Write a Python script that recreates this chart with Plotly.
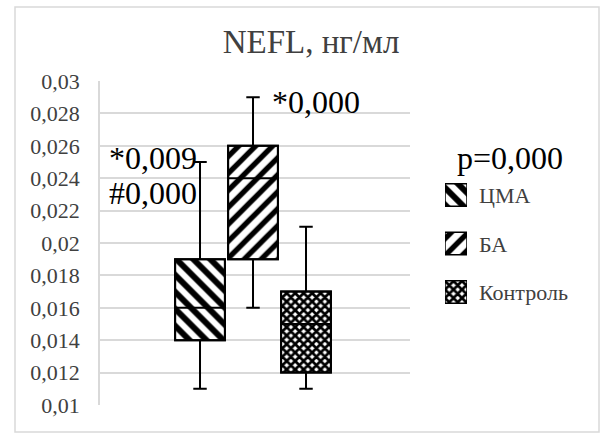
import plotly.graph_objects as go

# ---- data ----
groups = ["ЦМА", "БА", "Контроль"]
q1 = [0.014, 0.019, 0.012]
median = [0.016, 0.024, 0.015]
q3 = [0.019, 0.026, 0.017]
lower = [0.011, 0.016, 0.011]
upper = [0.025, 0.029, 0.021]
ytick_vals = [0.01, 0.012, 0.014, 0.016, 0.018, 0.02, 0.022, 0.024, 0.026, 0.028, 0.03]
ytick_text = ["0,01", "0,012", "0,014", "0,016", "0,018", "0,02", "0,022", "0,024", "0,026", "0,028", "0,03"]
notes = ["*0,009", "#0,000", "*0,000"]
p_text = "p=0,000"
title_text = "NEFL, нг/мл"

patterns = [
    dict(shape="\\", fgcolor="black", bgcolor="white", fgopacity=1, size=12, solidity=0.5),
    dict(shape="/", fgcolor="black", bgcolor="white", fgopacity=1, size=12, solidity=0.45),
    dict(shape="x", fgcolor="black", bgcolor="white", fgopacity=1, size=6, solidity=0.7),
]

SERIF = "Liberation Serif, Times New Roman, Times, serif"
fig = go.Figure()

for i, g in enumerate(groups):
    fig.add_trace(go.Bar(
        x=[g], y=[q3[i] - q1[i]], base=[q1[i]], width=0.94,
        marker=dict(color="white", opacity=1, pattern=patterns[i], line=dict(color="black", width=2)),
        showlegend=False, hoverinfo="skip", xaxis="x", yaxis="y"))
    fig.add_trace(go.Box(
        x=[g], q1=[q1[i]], median=[median[i]], q3=[q3[i]],
        lowerfence=[lower[i]], upperfence=[upper[i]],
        width=0.94, whiskerwidth=0.27, fillcolor="rgba(0,0,0,0)",
        line=dict(color="black", width=2), showlegend=False,
        xaxis="x", yaxis="y"))
    # legend swatch
    fig.add_trace(go.Bar(
        y=[g], x=[1], orientation="h", width=0.46,
        marker=dict(color="white", opacity=1, pattern=patterns[i], line=dict(color="black", width=1.5)),
        showlegend=False, hoverinfo="skip", xaxis="x2", yaxis="y2"))

fig.update_layout(
    width=600, height=434,
    margin=dict(l=100, r=0, t=81, b=29, autoexpand=False),
    paper_bgcolor="white", plot_bgcolor="white",
    barmode="overlay", boxmode="overlay",
    font=dict(family=SERIF, color="#404040"),
    title=dict(text=title_text, x=(311 - 100) / 500, xref="paper", xanchor="center",
               y=1 - 41 / 434, yref="container", yanchor="middle",
               font=dict(family=SERIF, size=33, color="#404040")),
    xaxis=dict(domain=[0, 310 / 500], type="category", categoryarray=groups,
               range=[-1.887, 3.962], showticklabels=False, showgrid=False,
               zeroline=False, showline=False, fixedrange=True),
    yaxis=dict(range=[0.01, 0.03], tickvals=ytick_vals, ticktext=ytick_text,
               showgrid=True, gridcolor="#d9d9d9", gridwidth=2, zeroline=False,
               showline=True, linecolor="#d9d9d9", linewidth=1.5,
               tickfont=dict(family=SERIF, size=22, color="#404040"),
               ticks="", ticklabelstandoff=14),
    xaxis2=dict(domain=[(445 - 100) / 500, (467 - 100) / 500], range=[0, 1],
                visible=False, anchor="y2"),
    yaxis2=dict(domain=[(405 - 316.25) / 324, (405 - 170.75) / 324], type="category",
                categoryarray=groups, range=[2.5, -0.5], visible=False, anchor="x2"),
)

# legend labels
legend_y = [195, 244, 292]
for i, g in enumerate(groups):
    fig.add_annotation(x=(477 - 100) / 500, y=(405 - legend_y[i]) / 324, xref="paper", yref="paper",
                       text=g, showarrow=False, xanchor="left", yanchor="middle",
                       font=dict(family=SERIF, size=22, color="#404040"))

ann_font = dict(family=SERIF, size=32, color="black")
fig.add_annotation(x=(107 - 100) / 500, y=(405 - 158) / 324, xref="paper", yref="paper",
                   text=notes[0], showarrow=False, xanchor="left", yanchor="middle", font=ann_font)
fig.add_annotation(x=(107 - 100) / 500, y=(405 - 193) / 324, xref="paper", yref="paper",
                   text=notes[1], showarrow=False, xanchor="left", yanchor="middle", font=ann_font)
fig.add_annotation(x=(270 - 100) / 500, y=(405 - 102) / 324, xref="paper", yref="paper",
                   text=notes[2], showarrow=False, xanchor="left", yanchor="middle", font=ann_font)
fig.add_annotation(x=(455 - 100) / 500, y=(405 - 158) / 324, xref="paper", yref="paper",
                   text=p_text, showarrow=False, xanchor="left", yanchor="middle", font=ann_font)

# chart border
fig.add_shape(type="rect", xref="paper", yref="paper",
              x0=(15 - 100) / 500, x1=(599 - 100) / 500,
              y0=(405 - 432) / 324, y1=(405 - 7) / 324,
              line=dict(color="#d9d9d9", width=1.5), fillcolor="rgba(0,0,0,0)", layer="below")

fig.write_html("out.html", config={"displayModeBar": False},
               post_script="document.body.style.margin='0';")
